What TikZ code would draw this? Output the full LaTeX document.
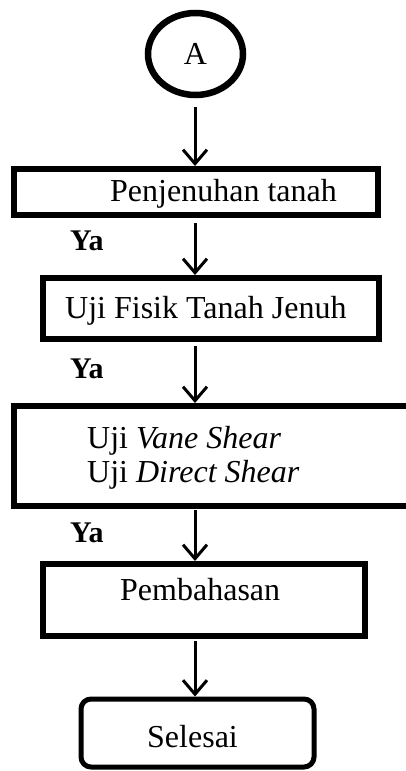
\documentclass[tikz,border=0pt]{standalone}
\usepackage{fontspec}
\setmainfont{Liberation Serif}
\usetikzlibrary{arrows.meta,shapes.geometric}
\tikzset{
  boxnode/.style={draw, line width=6pt, rectangle, inner sep=0pt},
  endbox/.style={draw, line width=5pt, rectangle, rounded corners=10pt, inner sep=0pt},
  txt/.style={inner sep=0pt, anchor=base west, font=\fontsize{32}{36}\selectfont},
  yalab/.style={inner sep=0pt, anchor=base west, font=\fontsize{30}{34}\selectfont\bfseries},
  arr/.style={line width=3pt, -{Straight Barb[length=14pt,width=24pt,line width=3pt]}}
}
\begin{document}
\begin{tikzpicture}[x=1pt,y=-1pt]
\useasboundingbox (0,0) rectangle (405,771);
\node[draw, ellipse, line width=6.5pt, minimum width=95pt, minimum height=82pt, inner sep=0pt,
      font=\fontsize{32}{36}\selectfont] (a) at (195.5,54) {A};
\coordinate (col) at (195,0);
\node[boxnode, minimum width=364pt, minimum height=46pt] (b1) at (196,192) {};
\node[boxnode, minimum width=336pt, minimum height=61pt] (b2) at (211,308.5) {};
\node[boxnode, minimum width=406pt, minimum height=100pt] (b3) at (217,456) {};
\node[boxnode, minimum width=322pt, minimum height=72pt] (b4) at (204,600) {};
\node[endbox, minimum width=233pt, minimum height=68pt] (b5) at (197.5,733) {};

\node[txt] (t1) at (110,201) {Penjenuhan tanah};
\node[txt] (t2) at (65,318) {Uji Fisik Tanah Jenuh};
\node[txt] (t3a) at (87,448) {Uji \textit{Vane Shear}};
\node[txt] (t3b) at (87,482) {Uji \textit{Direct Shear}};
\node[txt] (t4) at (120,600) {Pembahasan};
\node[txt] (t5) at (147,747) {Selesai};

\node[yalab] (y1) at (70,250) {Ya};
\node[yalab] (y2) at (70,378) {Ya};
\node[yalab] (y3) at (70,542) {Ya};

\coordinate (s1) at (195,107);
\coordinate (s2) at (195,223);
\coordinate (s3) at (195,346);
\coordinate (s4) at (195,510);
\coordinate (s5) at (195,641);
\draw[arr] (s1) -- (b1.north -| col);
\draw[arr] (s2) -- (b2.north -| col);
\draw[arr] (s3) -- (b3.north -| col);
\draw[arr] (s4) -- (b4.north -| col);
\draw[arr] (s5) -- (b5.north -| col);
\end{tikzpicture}
\end{document}
